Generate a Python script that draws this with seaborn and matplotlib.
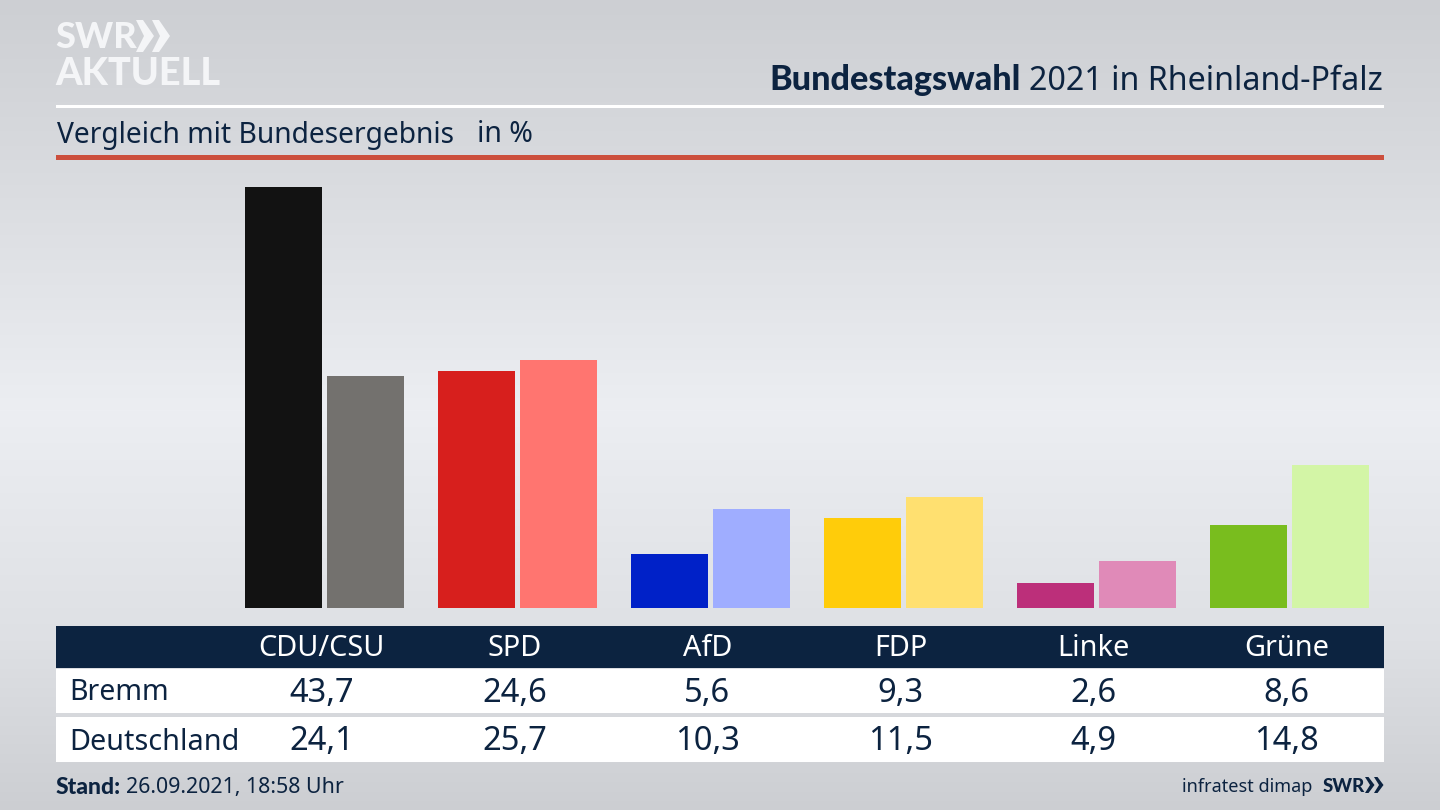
import numpy as np
import pandas as pd
import matplotlib.pyplot as plt
from matplotlib.patches import Rectangle, Polygon
import seaborn as sns

parties = ["CDU/CSU", "SPD", "AfD", "FDP", "Linke", "Grüne"]
bremm = [43.7, 24.6, 5.6, 9.3, 2.6, 8.6]
deutschland = [24.1, 25.7, 10.3, 11.5, 4.9, 14.8]
colors_bremm = ["#121212", "#d71f1d", "#0021c8", "#ffcc0a", "#bc2f7a", "#79bd1e"]
colors_deutschland = ["#73716e", "#ff7570", "#9fadff", "#ffe070", "#e08ab8", "#d3f5a6"]

NAVY = "#0c2340"
LOGO = "#f4f5f7"
W, H = 1440, 810
FONT = "Noto Sans"
BOLD = "Lato"

sns.set_theme(style="white")
plt.rcParams["font.family"] = [FONT, "DejaVu Sans"]

fig = plt.figure(figsize=(W / 100, H / 100), dpi=100)

# background gradient, light band in the middle
bg = fig.add_axes([0, 0, 1, 1], zorder=0)
stops_y = [0, 160, 410, 640, 810]
stops_v = [205, 216, 236, 222, 204]
grad = np.interp(np.arange(H), stops_y, stops_v)
img = np.stack([grad, grad + 2, grad + 6], axis=1).clip(0, 255)[:, None, :] / 255
bg.imshow(img, aspect="auto", extent=[0, W, H, 0])
bg.set_xlim(0, W)
bg.set_ylim(H, 0)
bg.axis("off")

# bars
df = pd.DataFrame({
    "party": parties * 2,
    "value": bremm + deutschland,
    "series": ["Bremm"] * 6 + ["Deutschland"] * 6,
})
ax = fig.add_axes([228 / W, (H - 608) / H, 1158 / W, 448 / H], zorder=1)
ax.patch.set_alpha(0)
sns.barplot(data=df, x="party", y="value", hue="series", order=parties,
            width=0.85, gap=0.061, legend=False, ax=ax)
for bar, c in zip(ax.patches, colors_bremm + colors_deutschland):
    bar.set_facecolor(c)
    bar.set_edgecolor("none")
ax.set_xlim(-0.5, 5.5)
ax.set_ylim(0, 448 / 9.634)
ax.set_xlabel("")
ax.set_ylabel("")
ax.set_xticks([])
ax.set_yticks([])
sns.despine(ax=ax, left=True, bottom=True)

# overlay in pixel coordinates for header, table and footer
ov = fig.add_axes([0, 0, 1, 1], zorder=2)
ov.set_xlim(0, W)
ov.set_ylim(H, 0)
ov.axis("off")

# logo
ov.text(55, 38, "SWR", fontsize=26, family=BOLD, fontweight="black", color=LOGO, va="center", ha="left")
for x0 in [136, 152]:
    ov.add_patch(Polygon([(x0, 20), (x0 + 7, 20), (x0 + 18, 36), (x0 + 7, 52), (x0, 52), (x0 + 8, 36)],
                         color=LOGO, lw=0))
ov.text(55, 74, "AKTUELL", fontsize=27.3, family=BOLD, fontweight="black", color=LOGO, va="center", ha="left")

# title
t = ov.text(1383, 82, "2021 in Rheinland-Pfalz", fontsize=23.2, color=NAVY, ha="right", va="center")
fig.canvas.draw()
bb = t.get_window_extent()
ov.text(bb.x0 - 9, 80, "Bundestagswahl", fontsize=24.6, family=BOLD, fontweight="black",
        color=NAVY, ha="right", va="center")

ov.add_patch(Rectangle((56, 105), 1328, 2.5, color="white", lw=0))
ov.text(57, 135, "Vergleich mit Bundesergebnis", fontsize=20.3, color=NAVY, va="center")
ov.text(477, 135, "in %", fontsize=20.5, color=NAVY, va="center")
ov.add_patch(Rectangle((56, 155), 1328, 5, color="#cc4f3d", lw=0))

# table
ov.add_patch(Rectangle((56, 626), 1328, 42, color=NAVY, lw=0))
ov.add_patch(Rectangle((56, 669), 1328, 44, color="white", lw=0))
ov.add_patch(Rectangle((56, 717), 1328, 45, color="white", lw=0))
centers = 321.5 + 193 * np.arange(len(parties))
for cx, party, a, b in zip(centers, parties, bremm, deutschland):
    ov.text(cx, 648, party, fontsize=20.8, color="white", ha="center", va="center")
    ov.text(cx, 693, f"{a:.1f}".replace(".", ","), fontsize=23.5, color=NAVY, ha="center", va="center")
    ov.text(cx, 742, f"{b:.1f}".replace(".", ","), fontsize=23.5, color=NAVY, ha="center", va="center")
ov.text(69, 693, "Bremm", fontsize=20.5, color=NAVY, va="center")
ov.text(69, 742, "Deutschland", fontsize=20.7, color=NAVY, va="center")

# footer
ov.text(56, 787, "Stand:", fontsize=16.5, family=BOLD, fontweight="black", color=NAVY, va="center")
ov.text(126, 787, "26.09.2021, 18:58 Uhr", fontsize=15.4, color=NAVY, va="center")
ov.text(1312, 787, "infratest dimap", fontsize=13, color=NAVY, ha="right", va="center")
ov.text(1323, 786, "SWR", fontsize=13.5, family=BOLD, fontweight="black", color=NAVY, ha="left", va="center")
for x0 in [1365, 1374]:
    ov.add_patch(Polygon([(x0, 777), (x0 + 3.5, 777), (x0 + 9.5, 785), (x0 + 3.5, 793), (x0, 793), (x0 + 5, 785)],
                         color=NAVY, lw=0))

fig.savefig("out.png", dpi=100)
